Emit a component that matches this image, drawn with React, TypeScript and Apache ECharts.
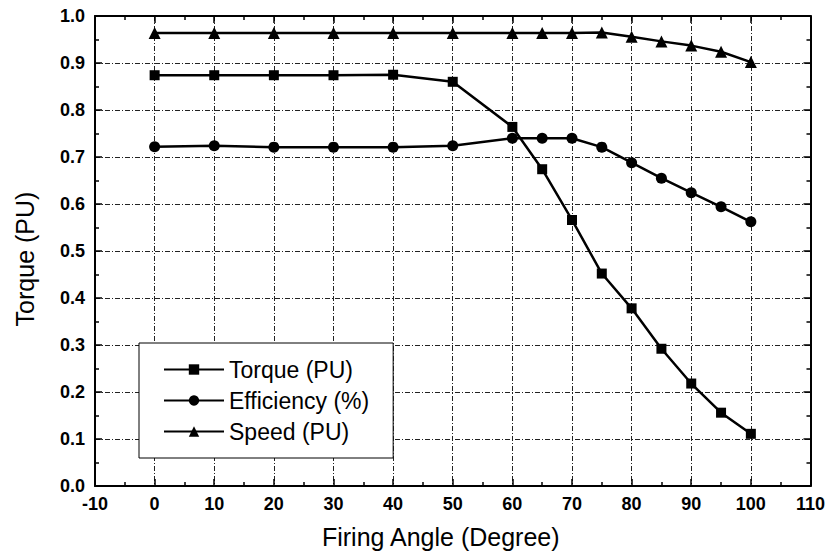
import React, { useEffect, useRef } from "react";
import * as echarts from "echarts";

const angles = [0, 10, 20, 30, 40, 50, 60, 65, 70, 75, 80, 85, 90, 95, 100];
const torque = [0.874, 0.874, 0.874, 0.874, 0.875, 0.860, 0.764, 0.674, 0.566, 0.452, 0.378, 0.292, 0.218, 0.156, 0.111];
const efficiency = [0.722, 0.724, 0.721, 0.721, 0.721, 0.724, 0.740, 0.740, 0.740, 0.721, 0.688, 0.655, 0.624, 0.594, 0.562];
const speed = [0.964, 0.964, 0.964, 0.964, 0.964, 0.964, 0.964, 0.964, 0.964, 0.965, 0.956, 0.946, 0.937, 0.924, 0.902];

const seriesNames = ["Torque (PU)", "Efficiency (%)", "Speed (PU)"];
const xAxisName = "Firing Angle (Degree)";
const yAxisName = "Torque (PU)";

const FONT = "Liberation Sans, Arial, sans-serif";

export default function App() {
  const ref = useRef<HTMLDivElement>(null);
  useEffect(() => {
    const chart = echarts.init(ref.current!, null, { renderer: "svg" });
    const gridLine = { show: true, lineStyle: { color: "#222", width: 1, type: [5, 2, 1, 2] } };
    const tick = { show: true, inside: true, length: 7, lineStyle: { color: "#000", width: 1.5 } };
    const minor = { show: true, splitNumber: 2, length: 4, lineStyle: { color: "#000", width: 1.5 } };
    const axisLine = { show: true, onZero: false, lineStyle: { color: "#000", width: 2 } };
    const label = { fontFamily: FONT, fontSize: 18, fontWeight: "bold", color: "#000" };
    const mk = (name: string, data: number[], symbol: string, size: number) => ({
      name,
      type: "line",
      data: angles.map((a, i) => [a, data[i]]),
      symbol,
      symbolSize: size,
      lineStyle: { color: "#000", width: 2.5 },
      itemStyle: { color: "#000" },
      xAxisIndex: 0,
      yAxisIndex: 0,
    });
    chart.setOption({
      animation: false,
      backgroundColor: "#fff",
      grid: { left: 95, right: 15, top: 16, bottom: 64 },
      legend: {
        orient: "vertical",
        left: 139,
        top: 343,
        data: seriesNames,
        itemWidth: 60,
        itemHeight: 13,
        itemGap: 8,
        padding: [15, 24, 15, 24],
        borderColor: "#000",
        borderWidth: 1,
        backgroundColor: "#fff",
        textStyle: { fontFamily: FONT, fontSize: 23, color: "#000" },
      },
      xAxis: [
        {
          type: "value",
          min: -10,
          max: 110,
          interval: 10,
          position: "bottom",
          name: xAxisName,
          nameLocation: "middle",
          nameGap: 38,
          nameTextStyle: { fontFamily: FONT, fontSize: 25, color: "#000", padding: [0, 24, 0, 0] },
          axisLine,
          axisTick: tick,
          minorTick: minor,
          axisLabel: { ...label, margin: 9 },
          splitLine: gridLine,
        },
        {
          type: "value",
          min: -10,
          max: 110,
          interval: 10,
          position: "top",
          axisLine,
          axisTick: tick,
          minorTick: minor,
          axisLabel: { show: false },
          splitLine: { show: false },
        },
      ],
      yAxis: [
        {
          type: "value",
          min: 0,
          max: 1,
          interval: 0.1,
          position: "left",
          name: yAxisName,
          nameLocation: "middle",
          nameGap: 58,
          nameTextStyle: { fontFamily: FONT, fontSize: 25, color: "#000", padding: [0, 16, 0, 0] },
          axisLine,
          axisTick: tick,
          minorTick: minor,
          axisLabel: { ...label, margin: 10, formatter: (v: number) => v.toFixed(1) },
          splitLine: gridLine,
        },
        {
          type: "value",
          min: 0,
          max: 1,
          interval: 0.1,
          position: "right",
          axisLine,
          axisTick: tick,
          minorTick: minor,
          axisLabel: { show: false },
          splitLine: { show: false },
        },
      ],
      series: [
        mk(seriesNames[0], torque, "rect", 10),
        mk(seriesNames[1], efficiency, "circle", 11),
        mk(seriesNames[2], speed, "triangle", 12),
      ],
    });
    return () => chart.dispose();
  }, []);
  return <div ref={ref} style={{ position: "absolute", left: 0, top: 0, width: 828, height: 554 }} />;
}
